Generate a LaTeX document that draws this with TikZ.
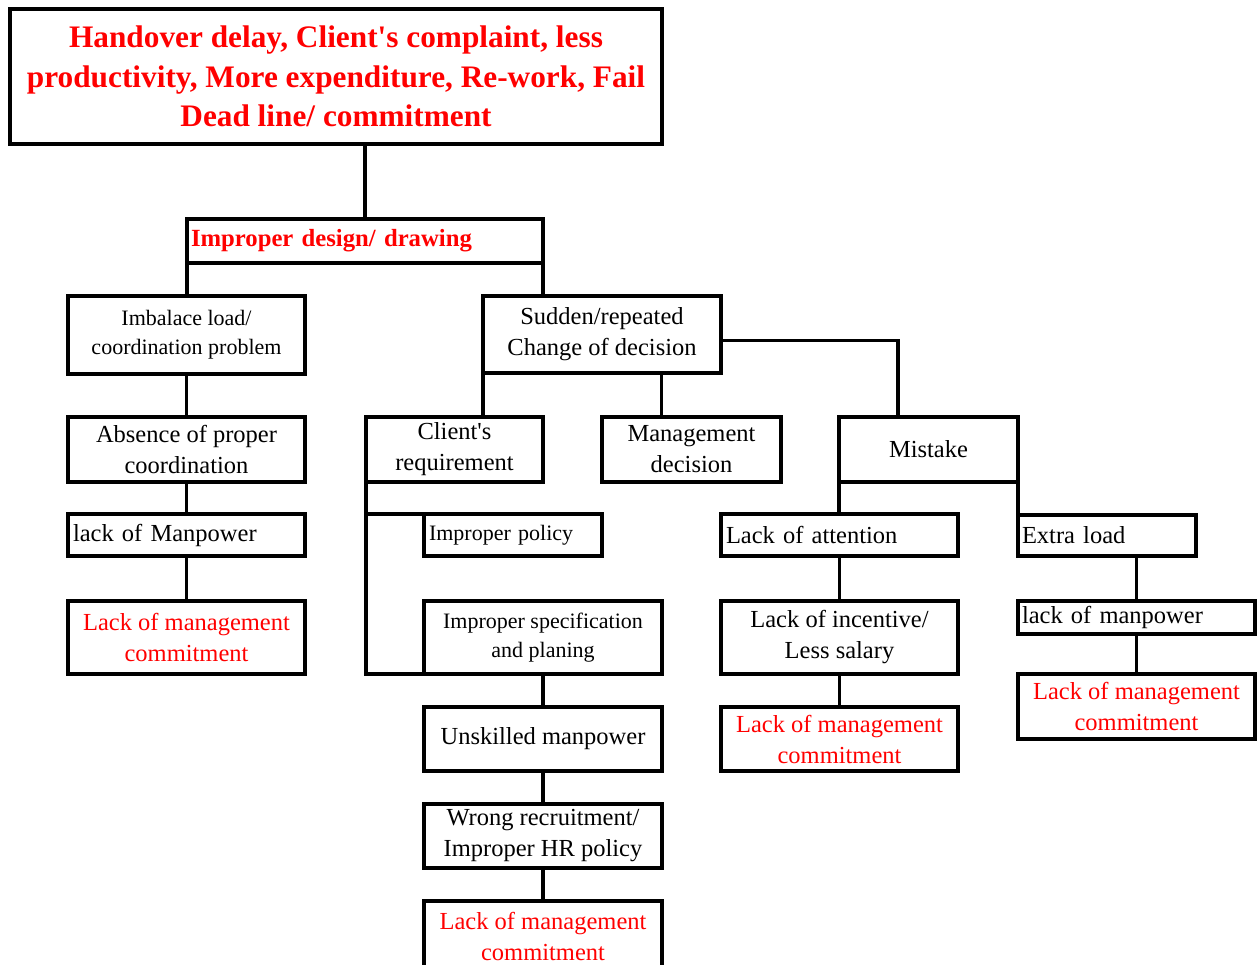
\documentclass[tikz,border=0pt]{standalone}
\usepackage{fontspec}
\setmainfont{Liberation Serif}
\usetikzlibrary{calc}
\newcommand\bodyfont{\fontsize{24.5}{31}\selectfont}
\newcommand\smallfont{\fontsize{22}{29}\selectfont}
\newcommand\headfont{\fontsize{31.3}{39.5}\selectfont\bfseries}
\newcommand\subheadfont{\fontsize{24.7}{31}\selectfont\bfseries}
\newcommand\apos{\textquotesingle}
\tikzset{
  x=1pt, y=-1pt,
  bx/.style={draw, line width=3.4pt, inner sep=0pt, outer sep=0pt,
             anchor=north west, align=center, font=\bodyfont},
  leftbx/.style={bx, align=left, inner xsep=#1pt},
  redtext/.style={text=red},
  link/.style={line width=3.4pt},
}
\begin{document}
\begin{tikzpicture}
\clip (0,0) rectangle (1260,965);
\fill[white] (0,0) rectangle (1260,965);

% top effect box
\node[bx, font=\headfont, redtext, minimum width=652pt, minimum height=135pt]
  (title) at (10,9) {Handover delay, Client\apos s complaint, less\\
  productivity, More expenditure, Re-work, Fail\\ Dead line/ commitment};

\node[leftbx=4, font=\subheadfont, redtext, text width=348pt, minimum height=44pt]
  (impr) at (187,219) {Improper design/ drawing};

% left branch
\node[bx, font=\smallfont, minimum width=237pt, minimum height=78pt]
  (imb) at (68,296) {Imbalace load/\\coordination problem};
\node[bx, minimum width=237pt, minimum height=65pt]
  (abs) at (68,417) {Absence of proper\\coordination};
\node[leftbx=5, text width=227pt, minimum height=42pt]
  (lman) at (68,514) {lack of Manpower};
\node[bx, redtext, minimum width=237pt, minimum height=73pt]
  (lmcA) at (68,601) {Lack of management\\commitment};

% right branch
\node[bx, minimum width=238pt, minimum height=77pt]
  (sud) at (483,296) {Sudden/repeated\\Change of decision};
\node[bx, minimum width=177pt, minimum height=65pt]
  (cli) at (366,417) {Client\apos s\\requirement};
\node[bx, minimum width=179pt, minimum height=65pt]
  (mgm) at (602,417) {Management\\decision};
\node[bx, minimum width=179pt, minimum height=65pt]
  (mis) at (839,417) {Mistake};

% client's requirement chain
\node[leftbx=5, font=\smallfont, text width=168pt, minimum height=42pt]
  (pol) at (424,514) {Improper policy};
\node[bx, font=\smallfont, minimum width=238pt, minimum height=73pt]
  (spec) at (424,601) {Improper specification\\and planing};
\node[bx, minimum width=238pt, minimum height=64pt]
  (uns) at (424,707) {Unskilled manpower};
\node[bx, minimum width=238pt, minimum height=64pt]
  (wro) at (424,804) {Wrong recruitment/\\Improper HR policy};
\node[bx, redtext, minimum width=238pt, minimum height=71pt]
  (lmcB) at (424,901) {Lack of management\\commitment};

% mistake chain
\node[leftbx=5, text width=227pt, minimum height=42pt]
  (att) at (721,514) {Lack of attention};
\node[bx, minimum width=237pt, minimum height=73pt]
  (inc) at (721,601) {Lack of incentive/\\Less salary};
\node[bx, redtext, minimum width=237pt, minimum height=64pt]
  (lmcC) at (721,707) {Lack of management\\commitment};
\node[leftbx=4, text width=170pt, minimum height=41pt]
  (ext) at (1018,515) {Extra load};
\node[leftbx=4, text width=229pt, minimum height=33pt]
  (lmp) at (1018,601) {lack of manpower};
\node[bx, redtext, minimum width=237pt, minimum height=65pt]
  (lmcD) at (1018,674) {Lack of management\\commitment};

% connectors
\draw[link] (impr.north) -- (impr.north |- title.south);
\draw[link] (impr.south west) -- (impr.south west |- imb.north);
\draw[link] (impr.south east) -- (impr.south east |- sud.north);
\draw[link] (imb.south) -- (abs.north);
\draw[link] (abs.south) -- (lman.north);
\draw[link] (lman.south) -- (lmcA.north);

\coordinate (sudM) at ($(sud.south west)!0.75!(sud.south east)$);
\coordinate (sudR) at ($(sud.north east)!0.58!(sud.south east)$);
\coordinate (misT) at ($(mis.north west)!0.33!(mis.north east)$);
\draw[link] (sud.south west) -- (sud.south west |- cli.north);
\draw[link] (sudM) -- (sudM |- mgm.north);
\draw[link] (sudR) -| (misT);

\draw[link] (cli.south west) -- (cli.south west |- spec.south) -- (spec.south west);
\draw[link] (cli.south west |- pol.north west) -- (pol.north west);
\draw[link] (spec.south) -- (uns.north);
\draw[link] (uns.south) -- (wro.north);
\draw[link] (wro.south) -- (lmcB.north);

\draw[link] (mis.south west) -- (mis.south west |- att.north);
\draw[link] (mis.south east) -- (ext.north west);
\draw[link] (att.south) -- (inc.north);
\draw[link] (inc.south) -- (lmcC.north);
\draw[link] (lmp.north) -- (lmp.north |- ext.south);
\draw[link] (lmp.south) -- (lmcD.north);
\end{tikzpicture}
\end{document}
